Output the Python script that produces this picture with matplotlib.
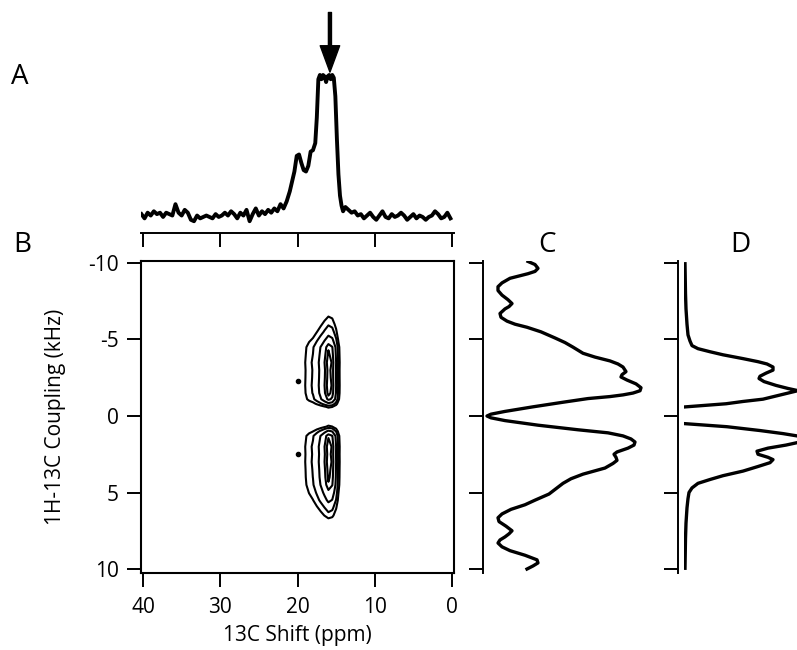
import numpy as np
import matplotlib
matplotlib.use("Agg")
import matplotlib.pyplot as plt

plt.rcParams["font.family"] = ["Open Sans", "DejaVu Sans"]
plt.rcParams["axes.unicode_minus"] = False

# --- A: 1D 13C spectrum (ppm, normalised intensity) ---
ppm_a = [40.2, 39.8, 39.4, 39.0, 38.6, 38.2, 37.8, 37.4, 37.0, 36.6, 36.2, 35.8,
         35.4, 35.0, 34.6, 34.2, 33.8, 33.4, 33.0, 32.6, 32.2, 31.8, 31.4, 31.0,
         30.6, 30.2, 29.8, 29.4, 29.0, 28.6, 28.2, 27.8, 27.4, 27.0, 26.6, 26.2,
         25.8, 25.4, 25.0, 24.6, 24.2, 23.8, 23.4, 23.0, 22.6, 22.2, 21.8, 21.4,
         21.0, 20.7, 20.4, 20.1, 19.8, 19.5, 19.2, 18.9, 18.6, 18.3, 18.0, 17.7,
         17.5, 17.3, 17.1, 16.9, 16.7, 16.5, 16.3, 16.1, 15.9, 15.7, 15.5, 15.3,
         15.1, 14.9, 14.7, 14.5, 14.3, 14.1, 13.8, 13.4, 13.0, 12.6, 12.2, 11.8,
         11.4, 11.0, 10.6, 10.2, 9.8, 9.4, 9.0, 8.6, 8.2, 7.8, 7.4, 7.0, 6.6,
         6.2, 5.8, 5.4, 5.0, 4.6, 4.2, 3.8, 3.4, 3.0, 2.6, 2.2, 1.8, 1.4, 1.0,
         0.6, 0.2]
int_a = [0.02, -0.01, 0.03, 0.01, 0.04, 0.02, 0.03, 0.00, 0.03, 0.02, 0.01, 0.09,
         0.03, 0.01, 0.05, 0.03, -0.02, -0.03, 0.01, -0.01, 0.00, 0.01, 0.00, -0.01,
         0.02, 0.00, 0.01, 0.03, 0.01, 0.04, 0.02, -0.01, 0.03, 0.01, 0.05, -0.03,
         0.02, 0.06, 0.01, 0.04, 0.02, 0.05, 0.03, 0.06, 0.04, 0.09, 0.06, 0.11,
         0.18, 0.25, 0.32, 0.43, 0.44, 0.38, 0.33, 0.32, 0.36, 0.46, 0.47, 0.52,
         0.70, 0.97, 1.00, 0.97, 1.00, 0.99, 0.95, 0.99, 1.00, 0.97, 1.00, 0.98,
         0.85, 0.55, 0.30, 0.15, 0.08, 0.04, 0.07, 0.05, 0.03, 0.04, 0.01, 0.02,
         -0.01, 0.01, 0.03, 0.00, -0.02, 0.01, 0.04, 0.00, -0.01, 0.02, 0.00, 0.01, 0.03,
         0.01, -0.02, 0.00, 0.02, -0.01, 0.01, 0.00, -0.02, 0.00, 0.01, 0.04, 0.02, -0.01, 0.00,
         0.03, -0.01]
arrow_ppm = 15.8

# --- B: 2D contour, built from a ppm profile and a coupling profile ---
ppm_b = [0, 13.0, 14.0, 14.4, 14.7, 15.0, 15.5, 16.0, 16.5, 17.0, 17.5, 18.0,
         18.5, 19.0, 19.5, 20.5, 22.0, 40.0]
prof_ppm_b = [0, 0, 0.05, 0.15, 0.30, 0.55, 0.90, 1.00, 0.80, 0.62, 0.48, 0.36,
              0.30, 0.22, 0.12, 0.03, 0, 0]
khz_b = [-10.0, -8.0, -7.0, -6.5, -6.0, -5.5, -5.0, -4.5, -4.0, -3.5, -3.0, -2.5,
         -2.0, -1.5, -1.1, -0.8, -0.6, -0.3, 0.0, 0.3, 0.7, 1.0, 1.3, 2.0, 2.5,
         3.0, 3.5, 4.0, 4.5, 5.0, 5.5, 6.0, 6.5, 7.0, 8.0, 10.0]
prof_khz_b = [0, 0.02, 0.10, 0.22, 0.32, 0.45, 0.65, 0.90, 0.95, 1.00, 0.97, 0.98,
              1.00, 0.97, 0.85, 0.50, 0.25, 0.08, 0.02, 0.08, 0.25, 0.60, 0.90, 1.00,
              0.98, 1.00, 0.97, 0.95, 0.90, 0.75, 0.60, 0.42, 0.28, 0.12, 0.02, 0]
levels_b = [0.22, 0.34, 0.55, 0.80, 0.92]
dot_ppm = [19.9, 19.9]
dot_khz = [-2.3, 2.5]

# --- C: coupling projection ---
khz_c = [-10.1, -9.9, -9.65, -9.45, -9.3, -9.15, -9.0, -8.7, -8.45, -8.2, -7.9,
         -7.6, -7.35, -7.15, -7.0, -6.7, -6.45, -6.2, -6.0, -5.8, -5.5, -5.1,
         -4.8, -4.5, -4.1, -3.85, -3.6, -3.4, -3.2, -2.9, -2.7, -2.55, -2.35,
         -2.1, -1.85, -1.65, -1.5, -1.38, -1.27, -1.14, -0.9, -0.6, -0.3, -0.12,
         0.0, 0.12, 0.3, 0.6, 0.9, 1.1, 1.3, 1.5, 1.7, 1.9, 2.1, 2.35, 2.5, 2.7,
         2.9, 3.1, 3.4, 3.8, 4.1, 4.4, 4.8, 5.1, 5.5, 5.8, 6.1, 6.4, 6.65, 6.9,
         7.2, 7.5, 7.7, 7.9, 8.1, 8.3, 8.55, 8.8, 9.1, 9.4, 9.6, 9.8, 10.0]
int_c = [45, 52, 55, 52, 45, 36, 27, 19, 15, 15, 19,
         25, 29, 26, 22, 17, 18, 24, 32, 44, 58, 72,
         82, 90, 100, 112, 127, 135, 140, 143, 139, 138, 144,
         153, 158, 157, 150, 140, 127, 105, 80, 50, 22, 8,
         4, 8, 22, 55, 95, 125, 140, 148, 152, 151, 145, 134, 131, 133,
         134, 130, 122, 100, 88, 80, 72, 66, 52, 42, 28, 19, 15, 16,
         23, 29, 26, 22, 17, 15, 19, 27, 42, 54, 55, 50, 44]

# --- D: slice at the arrow position ---
khz_d = [-9.95, -8.0, -7.0, -6.0, -5.3, -4.9, -4.6, -4.4, -4.2, -4.0, -3.75,
         -3.55, -3.4, -3.2, -3.0, -2.8, -2.6, -2.45, -2.25, -2.0, -1.8, -1.6,
         -1.45, -1.3, -1.1, -0.95, -0.8, -0.6, -0.3, 0.0, 0.3, 0.5, 0.7, 0.95,
         1.15, 1.3, 1.5, 1.7, 1.9, 2.1, 2.3, 2.5, 2.7, 2.85, 3.05, 3.3, 3.6,
         3.9, 4.15, 4.4, 4.7, 5.0, 5.4, 6.0, 7.0, 8.0, 9.95]
int_d = [7, 7.5, 8, 9, 10, 12, 14, 20, 32, 45, 65,
         80, 89, 95, 95, 88, 82, 81, 86, 98, 110, 124,
         128, 120, 85, 65, 48, 8, -45, -80, -45, 7, 49, 82,
         105, 119, 128, 122, 108, 90, 79, 80, 90, 95, 92, 80, 65,
         45, 32, 20, 14, 11, 10, 9, 8, 7.5, 7]

W, H = 797, 650
fig = plt.figure(figsize=(W / 100, H / 100), dpi=100)


def box(l, t, r, b):
    return [l / W, 1 - b / H, (r - l) / W, (b - t) / H]


xlim_main = (40.26, -0.26)
ylim_main = (10.26, -10.13)
tick_kw = dict(direction="out", length=10, width=1.4, color="k")

# main contour panel
ax = fig.add_axes(box(141, 261, 454, 573))
ax.contour(ppm_b, khz_b, np.outer(prof_khz_b, prof_ppm_b), levels=levels_b,
           colors="k", linewidths=1.5)
ax.plot(dot_ppm, dot_khz, "o", ms=3, color="k")
ax.set_xlim(*xlim_main)
ax.set_ylim(*ylim_main)
ax.set_xticks([40, 30, 20, 10, 0])
ax.set_yticks([-10, -5, 0, 5, 10])
ax.tick_params(labelsize=15, pad=6, **tick_kw)
ax.tick_params(axis="x", pad=7)
for s in ax.spines.values():
    s.set_linewidth(1.5)
ax.set_xlabel("13C Shift (ppm)", fontsize=15, labelpad=5)
ax.set_ylabel("1H-13C Coupling (kHz)", fontsize=15, labelpad=16)

# top 1D spectrum
ax_a = fig.add_axes(box(141, 0, 454, 233))
ax_a.plot(ppm_a, int_a, color="k", lw=2.8)
ax_a.annotate("", xy=(arrow_ppm, 1.02), xytext=(arrow_ppm, 1.44),
              arrowprops=dict(facecolor="k", edgecolor="k", width=2.2,
                              headwidth=14, headlength=19, shrink=0))
ax_a.set_xlim(*xlim_main)
ax_a.set_ylim(-0.113, 1.528)
ax_a.set_xticks([40, 30, 20, 10, 0])
ax_a.set_yticks([])
ax_a.tick_params(axis="x", labelbottom=False, **tick_kw)
for k in ["top", "left", "right"]:
    ax_a.spines[k].set_visible(False)
ax_a.spines["bottom"].set_linewidth(1.4)
ax_a.patch.set_visible(False)

# C projection
ax_c = fig.add_axes(box(483, 261, 700, 573))
ax_c.plot(int_c, khz_c, color="k", lw=2.4)
ax_c.set_xlim(0, 217)
ax_c.set_ylim(*ylim_main)
ax_c.set_yticks([-10, -5, 0, 5, 10])
ax_c.set_xticks([])
ax_c.tick_params(axis="y", labelleft=False, **tick_kw)
for k in ["top", "bottom", "right"]:
    ax_c.spines[k].set_visible(False)
ax_c.spines["left"].set_linewidth(1.4)
ax_c.patch.set_visible(False)

# D slice
ax_d = fig.add_axes(box(684, 261, 884, 573))
ax_d.plot(int_d, khz_d, color="k", lw=2.4)
ax_d.set_xlim(6, 206)
ax_d.set_ylim(*ylim_main)
ax_d.set_yticks([-10, -5, 0, 5, 10])
ax_d.set_xticks([])
ax_d.tick_params(axis="y", labelleft=False, **tick_kw)
for k in ["top", "bottom", "right"]:
    ax_d.spines[k].set_visible(False)
ax_d.spines["left"].set_position(("outward", 4.3))
ax_d.spines["left"].set_linewidth(1.4)
ax_d.patch.set_visible(False)

# panel letters
for letter, px, py in [("A", 20, 77), ("B", 22, 245), ("C", 547, 245), ("D", 740, 245)]:
    fig.text(px / W, 1 - py / H, letter, fontsize=20, ha="center", va="center")

fig.savefig("out.png", dpi=100)
